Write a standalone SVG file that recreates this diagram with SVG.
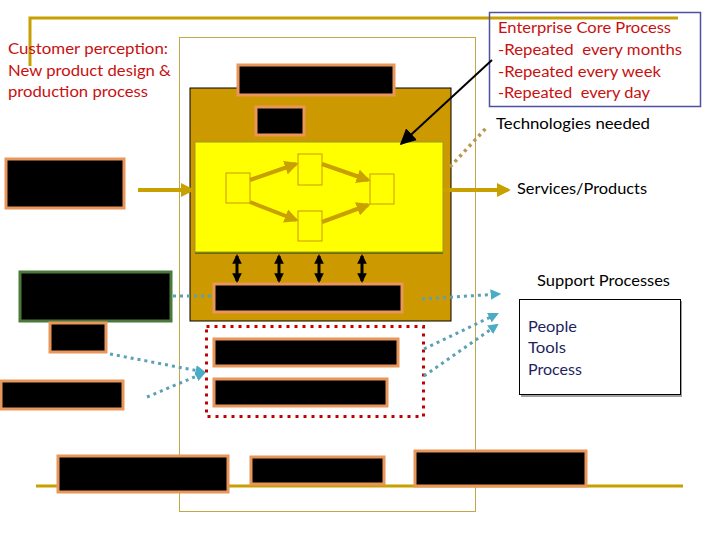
<svg xmlns="http://www.w3.org/2000/svg" width="720" height="540" viewBox="0 0 720 540">
<defs>
<style>
.t{font-family:Lato,"Open Sans","Liberation Sans",sans-serif;font-size:15.5px}
.red{fill:#C81010}
.blk{fill:#000}
.navy{fill:#1F1F5F}
.bb{fill:#000;stroke:#E9965A;stroke-width:3}
.gold{stroke:#C8A000;stroke-width:4;fill:none}
.teal{stroke:#5BA0B4;stroke-width:3;fill:none;stroke-dasharray:3 4}
.sq{fill:#FFFF00;stroke:#CC9900;stroke-width:1}
.dbl{stroke:#000;stroke-width:3;fill:none}
</style>
<marker id="ag" viewBox="0 0 10 10" refX="8" refY="5" markerWidth="3.5" markerHeight="3.5" orient="auto"><path d="M0,0L10,5L0,10z" fill="#C8A000"/></marker>
<marker id="ab" viewBox="0 0 10 10" refX="9" refY="5" markerWidth="8" markerHeight="8" orient="auto"><path d="M0,0L10,5L0,10z" fill="#000"/></marker>
<marker id="ad" viewBox="0 0 10 10" refX="8" refY="5" markerWidth="3.2" markerHeight="3.2" orient="auto-start-reverse"><path d="M0,0L10,5L0,10z" fill="#000"/></marker>
<marker id="at" viewBox="0 0 10 10" refX="8" refY="5" markerWidth="3.5" markerHeight="3.5" orient="auto"><path d="M0,0L10,5L0,10z" fill="#4BACC6"/></marker>
</defs>
<rect width="720" height="540" fill="#fff"/>
<g id="frame">
<path d="M30,66V18H678" stroke="#C8A000" stroke-width="3" fill="none"/>
<rect x="179.5" y="37.5" width="296" height="474" fill="none" stroke="#C0A848" stroke-width="1"/>
<line x1="36" y1="486" x2="683" y2="486" stroke="#C8A000" stroke-width="3"/>
</g>
<g id="core">
<rect x="190" y="88" width="261" height="233" fill="#CC9900" stroke="#000" stroke-width="1"/>
<rect x="195" y="143" width="248" height="111" fill="#6B6B00"/>
<rect x="195" y="142" width="248" height="110" fill="#FFFF00" stroke="#9A9A30" stroke-width="1"/>
</g>
<g id="boxTop"><rect class="bb" x="238" y="65" width="156" height="30"/></g>
<g id="boxSmall"><rect class="bb" x="256" y="107" width="48" height="28"/></g>
<g id="sqLeft"><rect class="sq" x="226" y="173" width="24" height="30"/></g>
<g id="sqTop"><rect class="sq" x="298" y="154" width="24" height="31"/></g>
<g id="sqBottom"><rect class="sq" x="298" y="211" width="24" height="30"/></g>
<g id="sqRight"><rect class="sq" x="370" y="174" width="24" height="30"/></g>
<g id="boxInput"><rect class="bb" x="6" y="159" width="118" height="49"/></g>
<g id="boxGreen"><rect x="20" y="272" width="151" height="49" fill="#000" stroke="#4A7A3A" stroke-width="3"/></g>
<g id="boxGreenSub"><rect class="bb" x="50" y="323" width="56" height="29"/></g>
<g id="boxLeftLow"><rect class="bb" x="1" y="381" width="122" height="28"/></g>
<g id="boxSupport"><rect class="bb" x="214" y="284" width="188" height="28"/></g>
<g id="redGroup">
<rect x="206.5" y="326.5" width="217" height="90" fill="none" stroke="#C00000" stroke-width="3" stroke-dasharray="3 5"/>
<rect class="bb" x="214" y="339" width="184" height="27"/>
<rect class="bb" x="214" y="379" width="173" height="27"/>
</g>
<g id="bottomBoxes">
<rect class="bb" x="58" y="456" width="170" height="36"/>
<rect class="bb" x="251" y="457" width="133" height="27"/>
<rect class="bb" x="415" y="451" width="171" height="35"/>
</g>
<g id="enterprise">
<rect x="489.5" y="12.5" width="211" height="94" fill="none" stroke="#5050A0" stroke-width="1.5"/>
<text class="t red" x="498" y="33" textLength="173" lengthAdjust="spacingAndGlyphs">Enterprise Core Process</text>
<text class="t red" x="498" y="55" xml:space="preserve" textLength="184" lengthAdjust="spacingAndGlyphs">-Repeated  every months</text>
<text class="t red" x="498" y="77" textLength="163" lengthAdjust="spacingAndGlyphs">-Repeated every week</text>
<text class="t red" x="498" y="98" xml:space="preserve" textLength="152" lengthAdjust="spacingAndGlyphs">-Repeated  every day</text>
</g>
<g id="customer">
<text class="t red" x="8" y="54" textLength="160" lengthAdjust="spacingAndGlyphs">Customer perception:</text>
<text class="t red" x="8" y="76" textLength="163" lengthAdjust="spacingAndGlyphs">New product design &amp;</text>
<text class="t red" x="8" y="97" textLength="140" lengthAdjust="spacingAndGlyphs">production process</text>
</g>
<g id="labels">
<text class="t blk" x="496" y="129" textLength="154" lengthAdjust="spacingAndGlyphs">Technologies needed</text>
<text class="t blk" x="517" y="194" textLength="130" lengthAdjust="spacingAndGlyphs">Services/Products</text>
<text class="t blk" x="537" y="286" textLength="133" lengthAdjust="spacingAndGlyphs">Support Processes</text>
</g>
<g id="peopleBox">
<rect x="521" y="301" width="161" height="96" fill="#A0A0A0"/>
<rect x="519.5" y="299.5" width="161" height="95" fill="#fff" stroke="#000" stroke-width="1"/>
<text class="t navy" x="528" y="332" textLength="49" lengthAdjust="spacingAndGlyphs">People</text>
<text class="t navy" x="528" y="353" textLength="38" lengthAdjust="spacingAndGlyphs">Tools</text>
<text class="t navy" x="528" y="375" textLength="54" lengthAdjust="spacingAndGlyphs">Process</text>
</g>
<g id="connectors">
<line class="gold" x1="138" y1="190" x2="192" y2="190" marker-end="url(#ag)"/>
<line class="gold" x1="443" y1="190" x2="508" y2="190" marker-end="url(#ag)"/>
<line class="gold" x1="250" y1="180" x2="296" y2="164" marker-end="url(#ag)"/>
<line class="gold" x1="322" y1="164" x2="368" y2="180" marker-end="url(#ag)"/>
<line class="gold" x1="250" y1="202" x2="296" y2="220" marker-end="url(#ag)"/>
<line class="gold" x1="322" y1="222" x2="368" y2="205" marker-end="url(#ag)"/>
<line x1="450" y1="167" x2="488" y2="126" stroke="#B89850" stroke-width="3.5" stroke-dasharray="3 4"/>
<line x1="492" y1="60" x2="401" y2="144" stroke="#000" stroke-width="2" marker-end="url(#ab)"/>
<line class="dbl" x1="237" y1="256" x2="237" y2="281" marker-start="url(#ad)" marker-end="url(#ad)"/>
<line class="dbl" x1="279" y1="256" x2="279" y2="281" marker-start="url(#ad)" marker-end="url(#ad)"/>
<line class="dbl" x1="319" y1="256" x2="319" y2="281" marker-start="url(#ad)" marker-end="url(#ad)"/>
<line class="dbl" x1="362" y1="256" x2="362" y2="281" marker-start="url(#ad)" marker-end="url(#ad)"/>
<line class="teal" x1="173" y1="296" x2="213" y2="296"/>
<line class="teal" x1="110" y1="354" x2="204" y2="372" marker-end="url(#at)"/>
<line class="teal" x1="147" y1="397" x2="204" y2="373" marker-end="url(#at)"/>
<line class="teal" x1="422" y1="299" x2="499" y2="294" marker-end="url(#at)"/>
<line class="teal" x1="424" y1="349" x2="497" y2="314" marker-end="url(#at)"/>
<line class="teal" x1="424" y1="376" x2="497" y2="325" marker-end="url(#at)"/>
</g>
</svg>
